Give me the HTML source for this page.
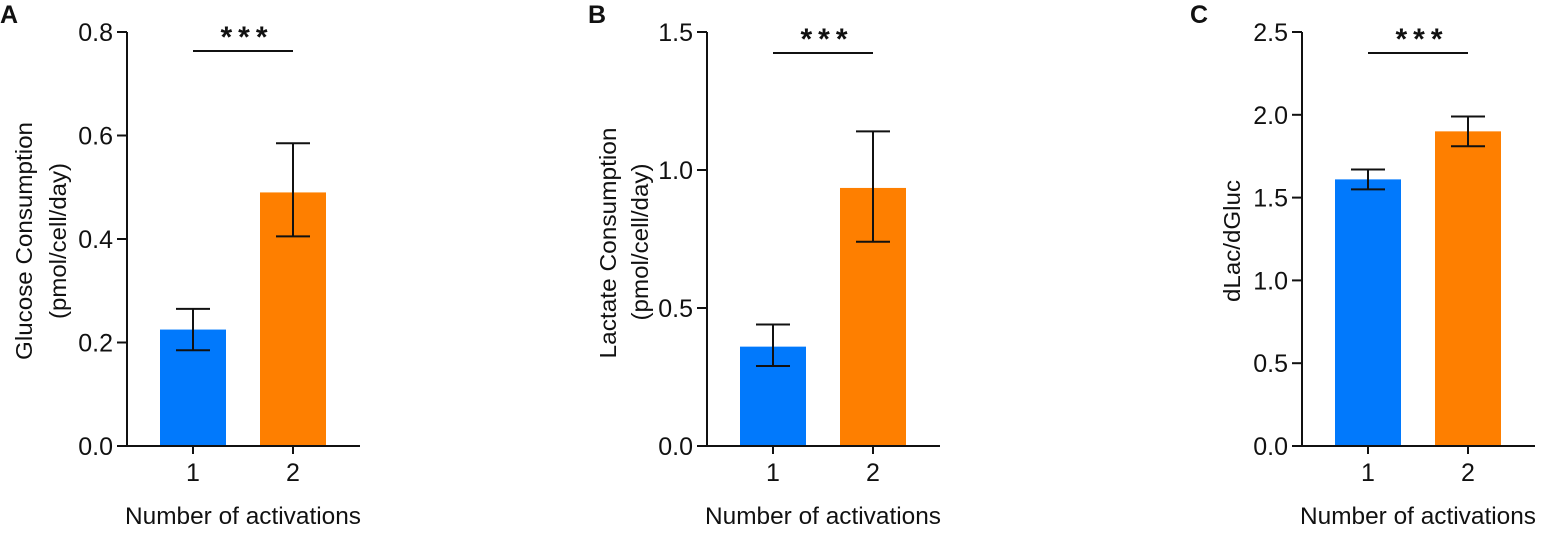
<!DOCTYPE html>
<html><head><meta charset="utf-8"><style>
html,body{margin:0;padding:0;background:#fff}
svg text{font-family:"Liberation Sans",Arial,sans-serif;fill:#111}
</style></head><body>
<svg id="fig" width="1544" height="530" viewBox="0 0 1544 530" xmlns="http://www.w3.org/2000/svg"></svg>
<script>
const categories = ["1","2"];
const glucoseMeans = [0.225, 0.49];
const glucoseErrHi = [0.265, 0.585];
const glucoseErrLo = [0.185, 0.405];
const lactateMeans = [0.36, 0.935];
const lactateErrHi = [0.44, 1.14];
const lactateErrLo = [0.29, 0.74];
const ratioMeans = [1.61, 1.90];
const ratioErrHi = [1.67, 1.99];
const ratioErrLo = [1.55, 1.81];
const glucoseTicks = [0, 0.2, 0.4, 0.6, 0.8];
const lactateTicks = [0, 0.5, 1.0, 1.5];
const ratioTicks = [0, 0.5, 1.0, 1.5, 2.0, 2.5];
const glucoseTickLabels = ["0.0","0.2","0.4","0.6","0.8"];
const lactateTickLabels = ["0.0","0.5","1.0","1.5"];
const ratioTickLabels = ["0.0","0.5","1.0","1.5","2.0","2.5"];

const NS="http://www.w3.org/2000/svg";
const svg=document.getElementById('fig');
function mk(tag,attrs,parent,txt){const e=document.createElementNS(NS,tag);for(const k in attrs)e.setAttribute(k,attrs[k]);if(txt!==undefined)e.textContent=txt;(parent||svg).appendChild(e);return e;}
const colors=["#0179fc","#fe7f00"];

function panel(cfg){
  const g=mk('g',{});
  
  
  const y0=446, y1=32;
  const yMax=cfg.ticks[cfg.ticks.length-1];
  const ys=v=>y0-(v/yMax)*(y0-y1);
  const xs=i=>cfg.ax+66+i*100;
  const L=mk('text',{x:cfg.letterX,y:23,'font-size':25,'font-weight':'bold'},g,cfg.id);
  
  
  cfg.means.forEach((m,i)=>{
    const r=mk('rect',{x:xs(i)-33,y:ys(m),width:66,height:y0-ys(m),fill:colors[i]},g);
    
    
    const eb=mk('g',{stroke:'#111','stroke-width':2},g);
    
    
    mk('line',{x1:xs(i),x2:xs(i),y1:ys(cfg.hi[i]),y2:ys(cfg.lo[i])},eb);
    mk('line',{x1:xs(i)-17,x2:xs(i)+17,y1:ys(cfg.hi[i]),y2:ys(cfg.hi[i])},eb);
    mk('line',{x1:xs(i)-17,x2:xs(i)+17,y1:ys(cfg.lo[i]),y2:ys(cfg.lo[i])},eb);
  });
  const ya=mk('line',{x1:cfg.ax,x2:cfg.ax,y1:y1,y2:y0+1,stroke:'#111','stroke-width':2},g);
  
  
  const xa=mk('line',{x1:cfg.ax-10,x2:cfg.ax+233,y1:y0,y2:y0,stroke:'#111','stroke-width':2},g);
  
  
  cfg.ticks.forEach((t,k)=>{
    mk('line',{x1:cfg.ax-10,x2:cfg.ax,y1:ys(t),y2:ys(t),stroke:'#111','stroke-width':2},g);
    const tl=mk('text',{x:cfg.ax-14,y:ys(t)+9,'font-size':25,'text-anchor':'end'},g,cfg.labels[k]);
    
    
  });
  categories.forEach((c,i)=>{
    mk('line',{x1:xs(i),x2:xs(i),y1:y0,y2:y0+8,stroke:'#111','stroke-width':2},g);
    const tl=mk('text',{x:xs(i),y:481,'font-size':25,'text-anchor':'middle'},g,c);
    
    
  });
  const xt=mk('text',{x:cfg.ax+116,y:524,'font-size':24,'text-anchor':'middle',textLength:236,lengthAdjust:'spacingAndGlyphs'},g,'Number of activations');
  
  
  cfg.ytitle.forEach((ln,k)=>{
    const t=mk('text',{x:0,y:0,'font-size':23,'text-anchor':'middle',textLength:ln.len,lengthAdjust:'spacingAndGlyphs',transform:`translate(${ln.x},${ln.cy}) rotate(-90)`},g,ln.t);
    
    
  });
  const sg=mk('g',{},g);
  
  
  mk('line',{x1:xs(0),x2:xs(1),y1:cfg.sigY,y2:cfg.sigY,stroke:'#111','stroke-width':2},sg);
  mk('text',{x:(xs(0)+xs(1))/2+4,y:cfg.sigY-4,'font-size':30,'font-weight':'bold','text-anchor':'middle','letter-spacing':'6'},sg,'***');
}
panel({id:'A',letterX:0,ax:127,means:glucoseMeans,hi:glucoseErrHi,lo:glucoseErrLo,ticks:glucoseTicks,labels:glucoseTickLabels,sigY:51,
  ytitle:[{t:'Glucose Consumption',x:32,cy:241,len:238},{t:'(pmol/cell/day)',x:66,cy:241,len:156}]});
panel({id:'B',letterX:588,ax:707,means:lactateMeans,hi:lactateErrHi,lo:lactateErrLo,ticks:lactateTicks,labels:lactateTickLabels,sigY:53,
  ytitle:[{t:'Lactate Consumption',x:616,cy:243,len:231},{t:'(pmol/cell/day)',x:648,cy:242,len:157}]});
panel({id:'C',letterX:1190,ax:1302,means:ratioMeans,hi:ratioErrHi,lo:ratioErrLo,ticks:ratioTicks,labels:ratioTickLabels,sigY:53,
  ytitle:[{t:'dLac/dGluc',x:1240,cy:241,len:122}]});
</script>
</body></html>
